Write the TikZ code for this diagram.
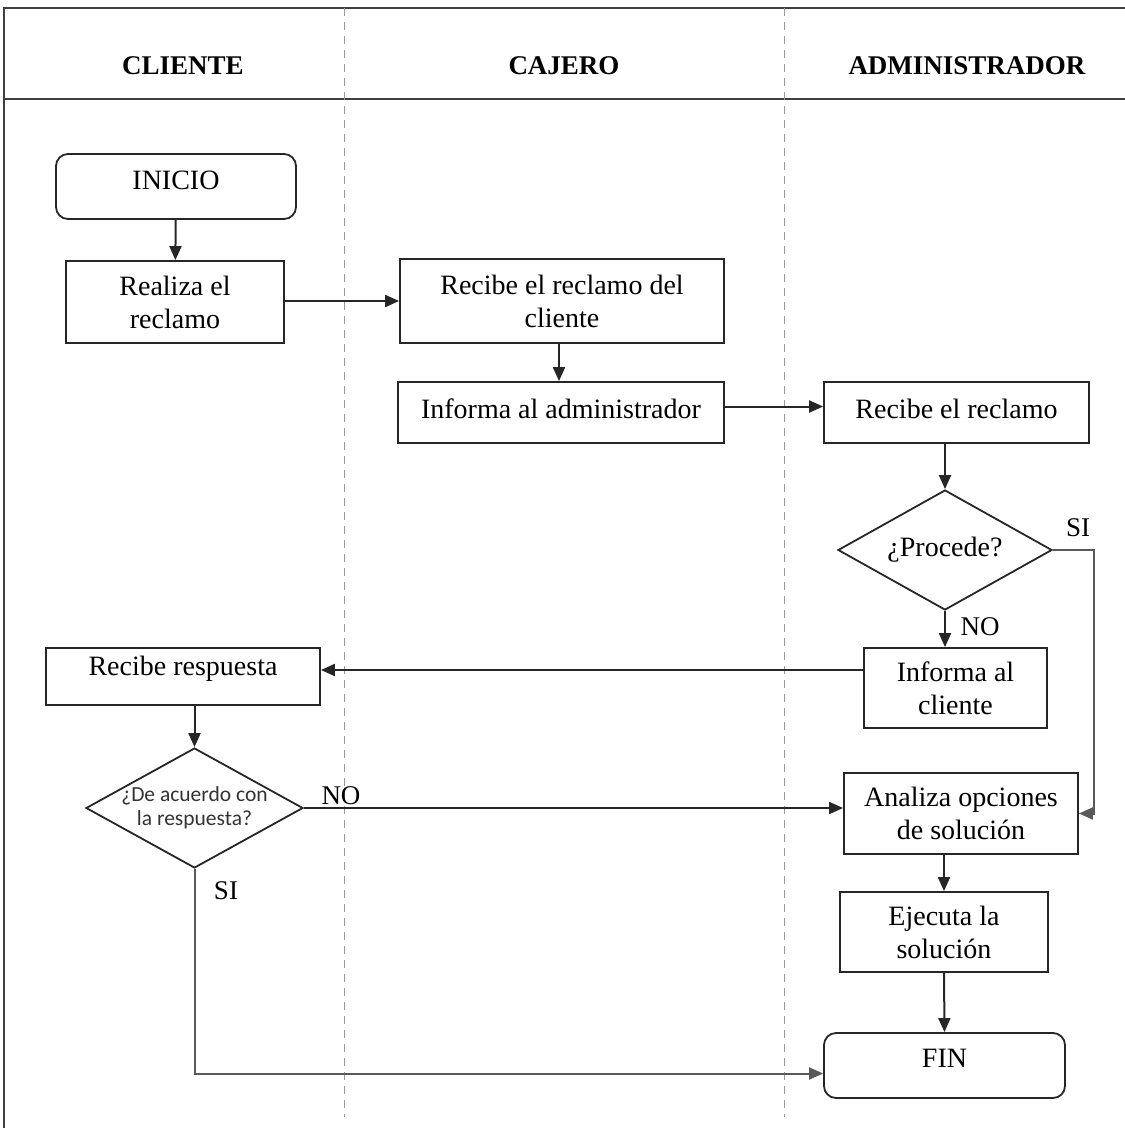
\documentclass[tikz,border=0pt]{standalone}
\usepackage{fontspec}
\setmainfont{Liberation Serif}
\newfontfamily\calfont{Carlito}
\usetikzlibrary{shapes.geometric,arrows.meta,calc}
\begin{document}
\begin{tikzpicture}[x=1pt,y=-1pt,
  every node/.style={inner sep=0pt},
  txt/.style={font=\fontsize{28}{33}\selectfont, align=center},
  box/.style={draw=black!85, line width=1.8pt, txt},
  term/.style={box, rounded corners=12pt},
  decision/.style={diamond, draw=black!85, line width=1.8pt},
  arr/.style={draw=black!85, line width=2pt, -{Triangle[length=14pt,width=12pt]}},
  grayarr/.style={arr, draw=black!65},
  lane/.style={draw=black!40, line width=1pt, dash pattern=on 8pt off 6pt},
  frame/.style={draw=black!75, line width=2.2pt},
  head/.style={font=\bfseries\fontsize{27}{30}\selectfont},
  lbl/.style={font=\fontsize{27}{30}\selectfont}
]
\useasboundingbox (0,0) rectangle (1125,1128);

% swimlane frame and header
\draw[frame] (4,1128) -- (4,8) -- (1125,8);
\draw[frame] (4,99) -- (1125,99);
\draw[lane] (344,8) -- (344,1117);
\draw[lane] (784,8) -- (784,1117);

\node[head] (hcli) at (183,66) {CLIENTE};
\node[head] (hcaj) at (564,66) {CAJERO};
\node[head] (hadm) at (967,66) {ADMINISTRADOR};

% process steps
\node[term, minimum width=240pt, minimum height=65pt, text depth=13pt] (inicio) at (176,186.5) {INICIO};
\node[box, minimum width=218pt, minimum height=82pt] (realiza) at (175,302) {Realiza el\\reclamo};
\node[box, minimum width=324pt, minimum height=84pt] (recibe1) at (562,301) {Recibe el reclamo del\\cliente};
\node[box, minimum width=326pt, minimum height=61pt, text depth=8pt] (infadm) at (561,412.5) {Informa al administrador};
\node[box, minimum width=265pt, minimum height=61pt, text depth=8pt] (recibe2) at (956.5,412.5) {Recibe el reclamo};
\node[decision, minimum width=214pt, minimum height=120pt,
      label={[txt]center:¿Procede?}] (procede) at (945,550) {};
\node[box, minimum width=183pt, minimum height=80pt] (infcli) at (955.5,688) {Informa al\\cliente};
\node[box, minimum width=274pt, minimum height=57pt, text depth=21pt] (recresp) at (183,676.5) {Recibe respuesta};
\node[decision, minimum width=217pt, minimum height=120pt,
      label={[font=\calfont\fontsize{21.5}{24}\selectfont, align=center, text=black!80]center:¿De acuerdo con\\la respuesta?}] (acuerdo) at (194.5,808) {};
\node[box, minimum width=234pt, minimum height=81pt] (analiza) at (961,813.5) {Analiza opciones\\de solución};
\node[box, minimum width=208pt, minimum height=80pt] (ejecuta) at (944,932) {Ejecuta la\\solución};
\node[term, minimum width=241pt, minimum height=65pt, text depth=15pt] (fin) at (944.5,1065.5) {FIN};

% connectors
\draw[arr] (inicio) -- (realiza);
\draw[arr] (realiza.east |- recibe1.west) -- (recibe1.west);
\draw[arr] ([xshift=-3pt]recibe1.south) -- ([xshift=-3pt]recibe1.south |- infadm.north);
\draw[arr] ([yshift=6pt]infadm.east) -- ([yshift=6pt]infadm.east -| recibe2.west);
\draw[arr] (procede.north |- recibe2.south) -- (procede.north);
\draw[arr] (procede.south) -- (procede.south |- infcli.north);
\coordinate (sicorner) at ($(analiza.east)+(15,0)$);
\draw[grayarr] (procede.east) -| (sicorner) -- (analiza.east);
\draw[arr] ([yshift=6.5pt]recresp.east -| infcli.west) -- ([yshift=6.5pt]recresp.east);
\draw[arr] (acuerdo.north |- recresp.south) -- (acuerdo.north);
\draw[arr] (acuerdo.east) -- (acuerdo.east -| analiza.west);
\draw[arr] (ejecuta.north |- analiza.south) -- (ejecuta.north);
\draw[arr] (ejecuta.south) -- (fin.north);
\draw[grayarr] (acuerdo.south) |- ([yshift=-8pt]fin.west);

% branch labels
\node[lbl] (siproc) at (1078,528) {SI};
\node[lbl] (noproc) at (980,627) {NO};
\node[lbl] (noacu) at (341,796) {NO};
\node[lbl] (siacu) at (226,891) {SI};
\end{tikzpicture}
\end{document}
